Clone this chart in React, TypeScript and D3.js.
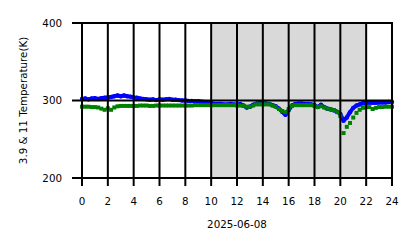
import React from "react";
import * as d3 from "d3";

const hours: number[] = d3.range(0, 24.001, 0.25);

const blueValues: number[] = [
  302, 302.5, 301.5, 302.5, 303, 302, 303, 303.5,
  304, 304.5, 305.5, 306.5, 305.5, 306.5, 305.5, 305,
  304, 303.5, 302.5, 302, 301.5, 301, 301.5, 300.5,
  301.5, 301, 301.5, 302, 301, 301, 300.5, 300,
  300, 299.5, 299.5, 299, 299, 298.5, 298, 297.5,
  296.5, 295.5, 295.5, 295.5, 295, 295, 295.5, 295,
  295, 295.5, 293.5, 291, 292, 294.5, 296, 296.5,
  296.5, 296, 295.5, 294, 292.5, 289.5, 285.5, 281.5,
  287.5, 293.5, 295.5, 296, 296, 295.5, 295.5, 295,
  294, 291.5, 294.5, 291.5, 289.5, 288.5, 287.5, 285.5,
  282.5, 274, 278, 285, 290.5, 293.5, 295, 296.5,
  297, 297.5, 297, 297, 297.5, 297.5, 297.5, 298,
  298,
];

const greenValues: number[] = [
  292, 292, 292, 291.5, 291.5, 291, 289.5, 288,
  290, 288, 291, 292.5, 293, 293, 293, 293,
  293, 293, 293.5, 293.5, 293.5, 293, 293, 293.5,
  293.5, 293.5, 293.5, 293.5, 293.5, 293.5, 293.5, 293.5,
  293.5, 293.5, 293.5, 294, 294, 294, 294, 294,
  294, 294, 294, 294, 294, 294, 294, 294,
  293.5, 293.5, 293, 292, 292, 293.5, 295, 295,
  295, 295, 295, 293.5, 292, 289, 286.5, 285,
  289, 293, 294, 294, 294, 294, 294, 294,
  293, 291.5, 292.5, 291, 289.5, 288.5, 287.5, 285,
  280, 258, 266, 271, 278, 284, 288, 290.5,
  291.5, 291.5, 289, 290.5, 291.5, 291.5, 292, 292,
  292,
];

const xTicks: number[] = [0, 2, 4, 6, 8, 10, 12, 14, 16, 18, 20, 22, 24];
const yTicks: number[] = [200, 300, 400];
const shadeRange: number[] = [10, 22];
const xLabel = "2025-06-08";
const yLabel = "3.9 & 11 Temperature(K)";

const W = 418;
const H = 248;
const left = 82;
const right = 392;
const top = 23;
const bottom = 178;

export default function App() {
  const x = d3.scaleLinear().domain([0, 24]).range([left, right]);
  const y = d3.scaleLinear().domain([200, 400]).range([bottom, top]);
  const font = "DejaVu Sans, sans-serif";
  const fs = 10.3;

  const blueLine = d3
    .line<number>()
    .x((_, i) => x(hours[i]))
    .y((d) => y(d))(blueValues) as string;

  return (
    <svg
      width={W}
      height={H}
      style={{ position: "absolute", left: 0, top: 0, background: "#fff" }}
    >
      <rect x={0} y={0} width={W} height={H} fill="#fff" />
      <rect
        x={x(shadeRange[0])}
        y={top}
        width={x(shadeRange[1]) - x(shadeRange[0])}
        height={bottom - top}
        fill="#d9d9d9"
      />
      {/* data */}
      <path
        d={blueLine}
        fill="none"
        stroke="#0000ff"
        strokeWidth={4}
        strokeLinejoin="round"
        strokeLinecap="round"
      />
      {blueValues.map((v, i) => (
        <circle key={"b" + i} cx={x(hours[i])} cy={y(v)} r={2.2} fill="#0000ff" />
      ))}
      {greenValues.map((v, i) => (
        <rect
          key={"g" + i}
          x={x(hours[i]) - 2}
          y={y(v) - 2}
          width={4}
          height={4}
          fill="#008000"
        />
      ))}
      {/* grid */}
      {xTicks.map((t) => (
        <line
          key={"gx" + t}
          x1={x(t)}
          x2={x(t)}
          y1={top}
          y2={bottom}
          stroke="#000"
          strokeWidth={2}
        />
      ))}
      {yTicks.map((t) => (
        <line
          key={"gy" + t}
          x1={left}
          x2={right}
          y1={y(t)}
          y2={y(t)}
          stroke="#000"
          strokeWidth={2}
        />
      ))}
      {/* frame */}
      <rect
        x={left}
        y={top}
        width={right - left}
        height={bottom - top}
        fill="none"
        stroke="#000"
        strokeWidth={2}
      />
      {/* ticks */}
      {xTicks.map((t) => (
        <g key={"tx" + t}>
          <line x1={x(t)} x2={x(t)} y1={bottom} y2={bottom + 8} stroke="#000" strokeWidth={2} />
          <text
            x={x(t)}
            y={bottom + 27}
            fontFamily={font}
            fontSize={fs}
            textAnchor="middle"
            fill="#000"
          >
            {t}
          </text>
        </g>
      ))}
      {yTicks.map((t) => (
        <g key={"ty" + t}>
          <line x1={left - 10} x2={left} y1={y(t)} y2={y(t)} stroke="#000" strokeWidth={2} />
          <text
            x={left - 20}
            y={y(t)}
            dy="0.35em"
            fontFamily={font}
            fontSize={fs}
            textAnchor="end"
            fill="#000"
          >
            {t}
          </text>
        </g>
      ))}
      <text
        x={(left + right) / 2}
        y={228}
        fontFamily={font}
        fontSize={fs}
        textAnchor="middle"
        fill="#000"
      >
        {xLabel}
      </text>
      <text
        transform={`translate(27, ${(top + bottom) / 2}) rotate(-90)`}
        fontFamily={font}
        fontSize={fs}
        textAnchor="middle"
        fill="#000"
      >
        {yLabel}
      </text>
    </svg>
  );
}
